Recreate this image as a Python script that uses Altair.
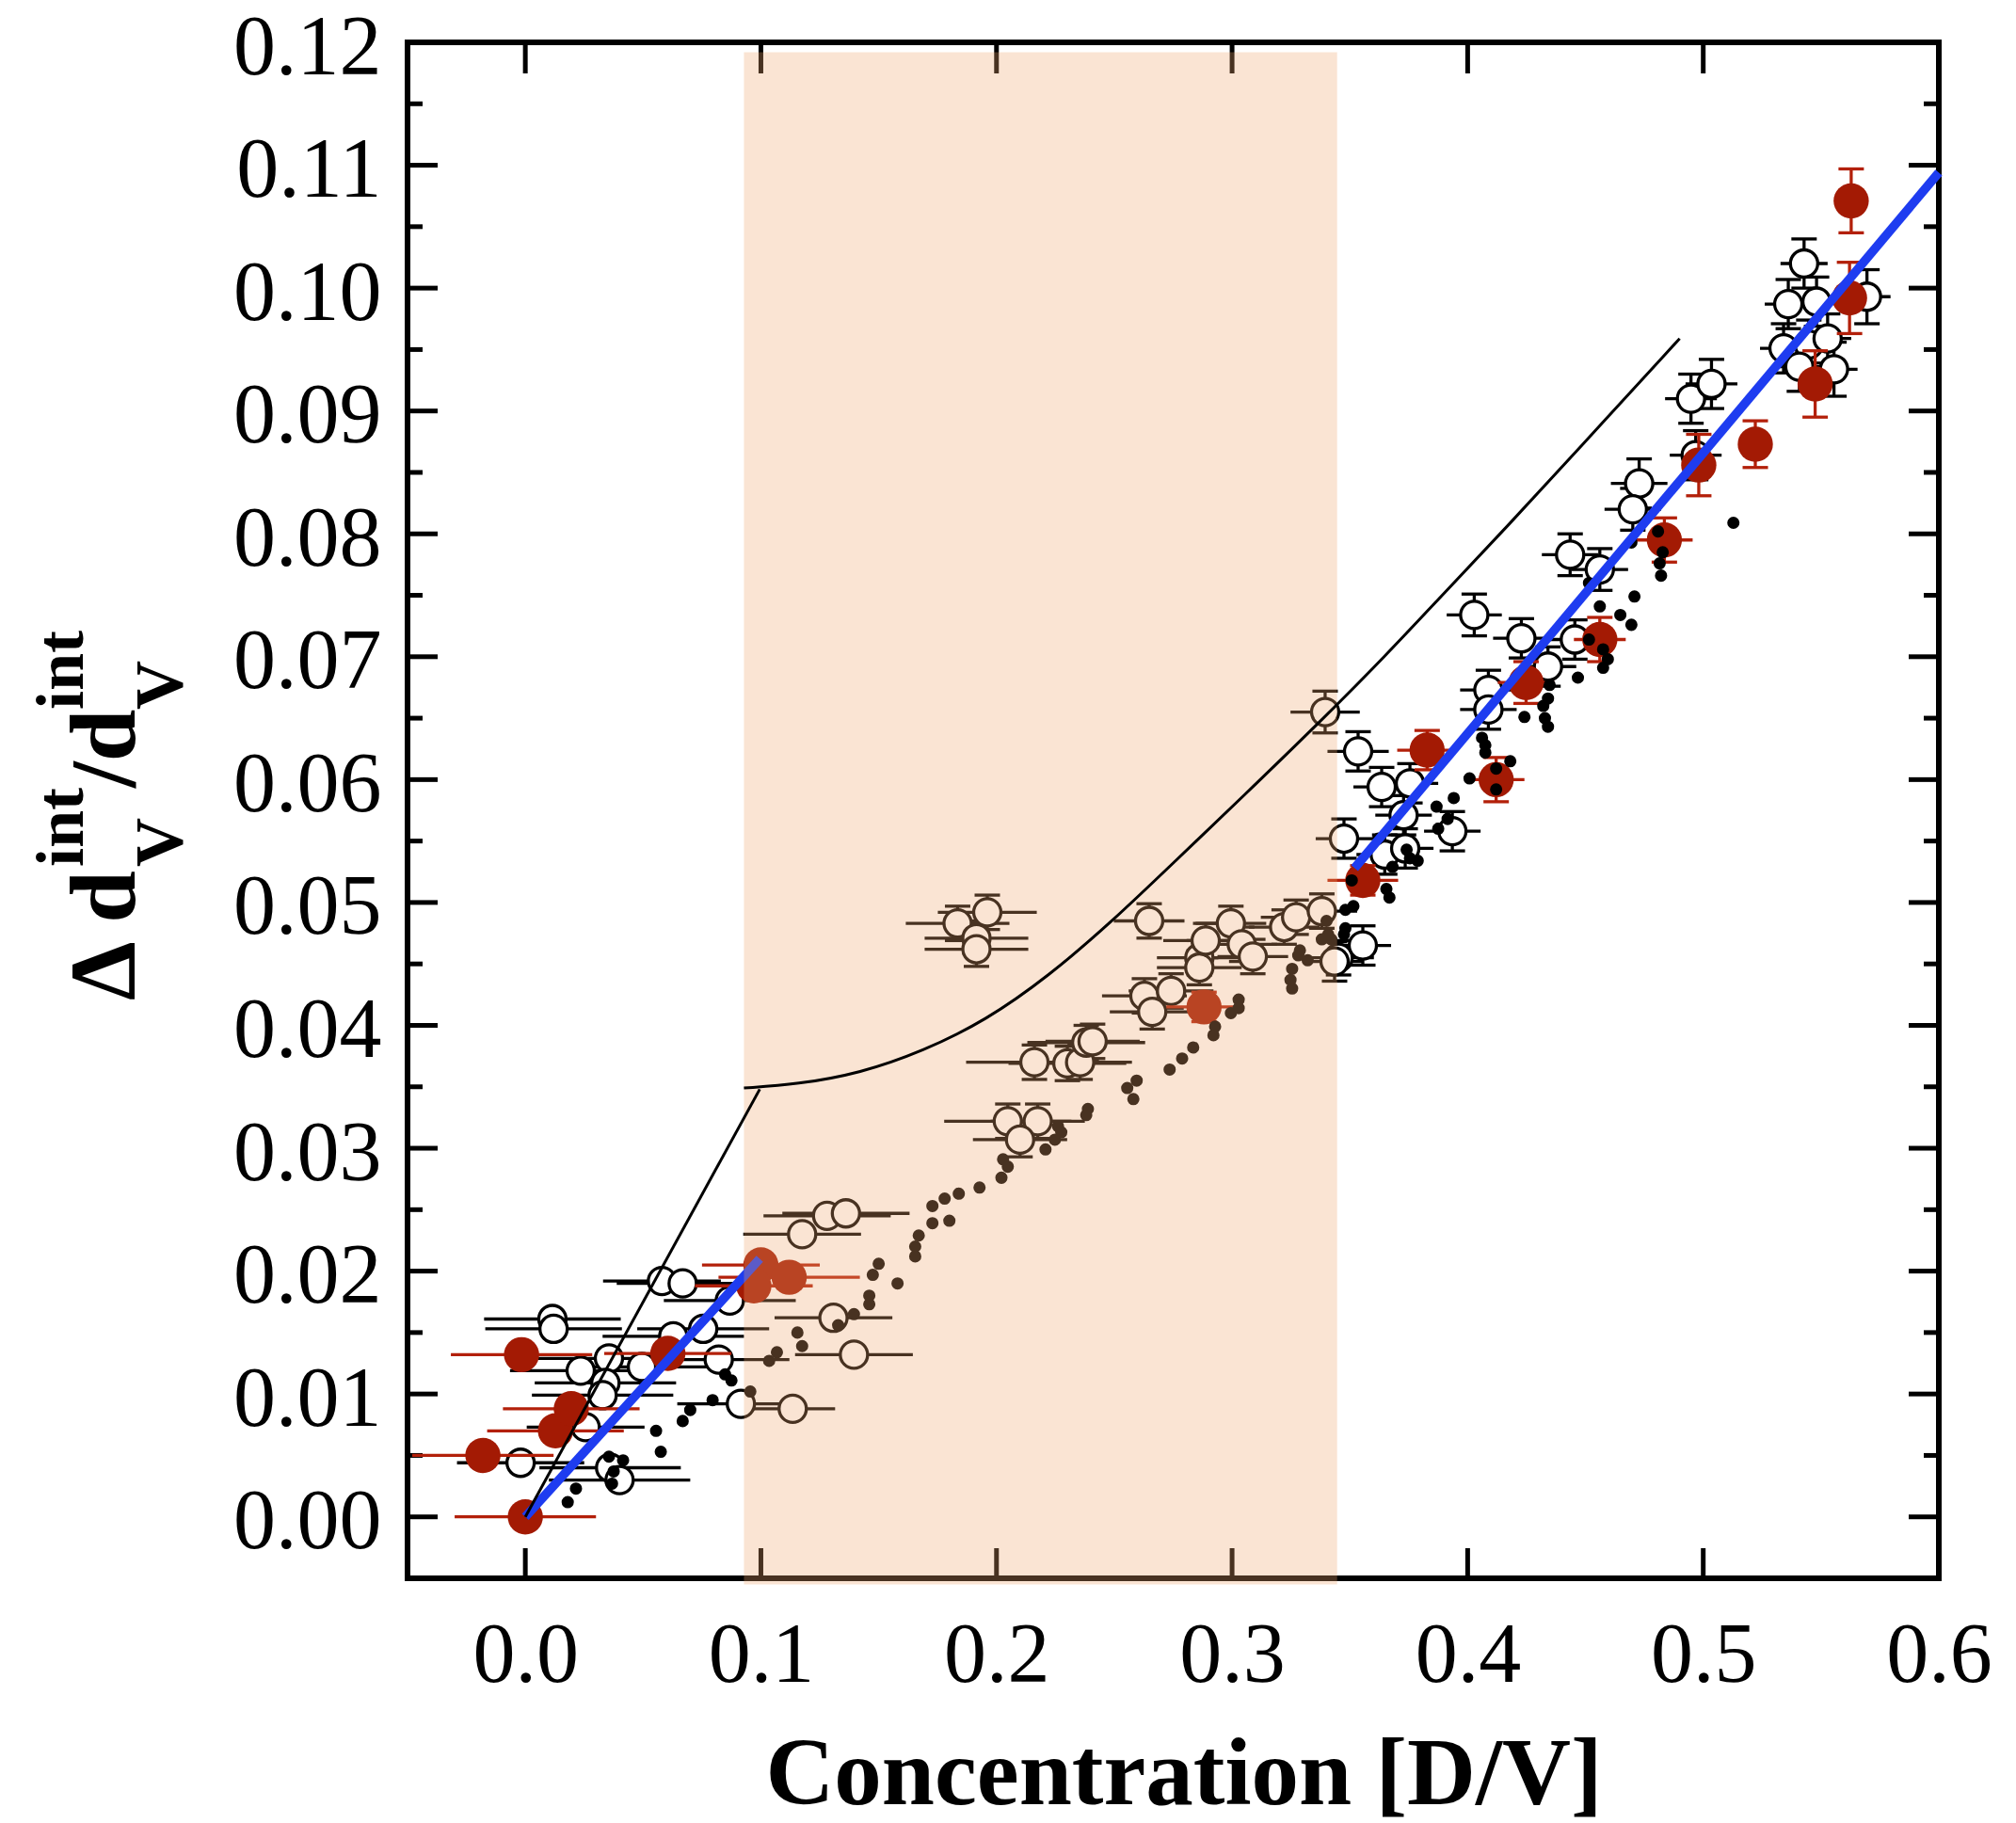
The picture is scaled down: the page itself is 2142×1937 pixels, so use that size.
import altair as alt
import pandas as pd

# ---------------- data ----------------
# open circles: x, y, horizontal half-error, vertical half-error
open_x = [0.0115, 0.0120, -0.0020, 0.0360, 0.0400, 0.0580, 0.0668, 0.0868, 0.0755, 0.0628, 0.0821, 0.0355,
          0.0235, 0.0340, 0.0328, 0.0495, 0.0915, 0.1135, 0.0256, 0.1175, 0.1281, 0.1361, 0.1308, 0.1395,
          0.1835, 0.1961, 0.1915, 0.1915, 0.2161, 0.2301, 0.2355, 0.2381, 0.2048, 0.2175, 0.2100, 0.2628,
          0.2661, 0.2741, 0.2861, 0.2861, 0.2888, 0.2648, 0.2995, 0.3041, 0.3088, 0.3221, 0.3272, 0.3381,
          0.3452, 0.2408,
          0.3395, 0.3535, 0.3635, 0.3755, 0.3728, 0.3475, 0.3648, 0.3735, 0.3935, 0.3555, 0.3435, 0.4088,
          0.4088, 0.4028, 0.4228, 0.4341, 0.4455, 0.4435, 0.4561, 0.4728, 0.4701, 0.4968, 0.4948, 0.5035,
          0.5428, 0.5361, 0.5481, 0.5341, 0.5448, 0.5528, 0.5555, 0.5695, 0.5408]
open_y = [0.0161, 0.0153, 0.0044, 0.0040, 0.0030, 0.0192, 0.0190, 0.0176, 0.0153, 0.0147, 0.0128, 0.0129,
          0.0119, 0.0109, 0.0099, 0.0122, 0.0092, 0.0088, 0.0073, 0.0230, 0.0245, 0.0247, 0.0162, 0.0132,
          0.0483, 0.0492, 0.0471, 0.0462, 0.0370, 0.0369, 0.0370, 0.0386, 0.0322, 0.0322, 0.0307, 0.0424,
          0.0411, 0.0428, 0.0455, 0.0447, 0.0469, 0.0485, 0.0483, 0.0466, 0.0456, 0.0480, 0.0488, 0.0493,
          0.0455, 0.0387,
          0.0655, 0.0623, 0.0594, 0.0597, 0.0571, 0.0552, 0.0539, 0.0544, 0.0558, 0.0465, 0.0452, 0.0673,
          0.0657, 0.0734, 0.0715, 0.0692, 0.0714, 0.0783, 0.0771, 0.0841, 0.0820, 0.0864, 0.0910, 0.0922,
          0.1020, 0.0987, 0.0989, 0.0951, 0.0954, 0.0959, 0.0934, 0.0993, 0.0936]
open_xerr = [0.029, 0.029, 0.027, 0.030, 0.030, 0.025, 0.028, 0.028, 0.028, 0.030, 0.030, 0.030,
             0.030, 0.030, 0.030, 0.030, 0.027, 0.018, 0.025, 0.025, 0.027, 0.027, 0.025, 0.025,
             0.022, 0.021, 0.022, 0.022, 0.029, 0.025, 0.022, 0.025, 0.027, 0.020, 0.020, 0.018,
             0.018, 0.018, 0.018, 0.018, 0.018, 0.015, 0.015, 0.015, 0.015, 0.015, 0.015, 0.015,
             0.015, 0.020,
             0.0147, 0.013, 0.012, 0.012, 0.012, 0.012, 0.012, 0.012, 0.012, 0.012, 0.012, 0.012,
             0.012, 0.0117, 0.012, 0.012, 0.012, 0.012, 0.012, 0.012, 0.012, 0.011, 0.011, 0.011,
             0.010, 0.010, 0.010, 0.010, 0.010, 0.010, 0.010, 0.010, 0.010]
open_yerr = [0.0] * 24 + [0.0014] * 26 + [
             0.0017, 0.0016, 0.0016, 0.0016, 0.0016, 0.0016, 0.0016, 0.0016, 0.0016, 0.0016, 0.0016, 0.0016,
             0.0016, 0.0017, 0.0016, 0.0016, 0.0016, 0.0017, 0.0017, 0.0020, 0.0017, 0.0020, 0.0020, 0.0020,
             0.0020, 0.0020, 0.0020, 0.0020, 0.0020, 0.0020, 0.0022, 0.0022, 0.0020]

# filled red circles
red_x = [0.000, -0.018, -0.0016, 0.0128, 0.0195, 0.0605, 0.100, 0.112, 0.097, 0.2881, 0.3555,
         0.3828, 0.4121, 0.4248, 0.4561, 0.4835, 0.4981, 0.5221, 0.5475, 0.5621, 0.5628]
red_y = [0.0000, 0.0050, 0.0132, 0.0070, 0.0088, 0.0133, 0.0205, 0.0195, 0.0188, 0.0415, 0.0518,
         0.0624, 0.0600, 0.0679, 0.0714, 0.0795, 0.0856, 0.0873, 0.0922, 0.0992, 0.1071]
red_xerr = [0.030, 0.030, 0.030, 0.029, 0.029, 0.027, 0.025, 0.030, 0.025, 0.016, 0.015,
            0.0127, 0.012, 0.012, 0.011, 0.012, 0.0, 0.0, 0.0, 0.0, 0.0]
red_yerr = [0.0, 0.0, 0.0, 0.0, 0.0, 0.0, 0.0, 0.0, 0.0, 0.0012, 0.0012,
            0.0016, 0.0018, 0.0017, 0.0018, 0.0018, 0.0025, 0.0019, 0.0027, 0.0029, 0.0026]

# small black dots
dot_x = [0.018, 0.0215, 0.0355, 0.0415, 0.0375, 0.0368, 0.0575, 0.0555, 0.0668, 0.070, 0.0795, 0.0875,
         0.0848, 0.0955, 0.1035, 0.1068, 0.1155, 0.1175, 0.1328, 0.1395, 0.146, 0.146, 0.150, 0.1475,
         0.158, 0.1655, 0.1655, 0.167, 0.1728, 0.1728, 0.180, 0.178, 0.184, 0.1928, 0.2021, 0.2048,
         0.2028, 0.2208, 0.2248, 0.2275, 0.2261, 0.2381, 0.2388, 0.2555, 0.2581, 0.2595, 0.2735, 0.2788,
         0.2835, 0.2921, 0.2928, 0.3028, 0.3028, 0.2995, 0.3255, 0.3248, 0.3255, 0.3281, 0.3321, 0.3288,
         0.3408, 0.3421, 0.3381, 0.3401, 0.3481, 0.3475, 0.3481, 0.3515, 0.3508, 0.3655, 0.3668, 0.3621,
         0.3681, 0.3741, 0.3788, 0.3755, 0.3868, 0.3915, 0.3941, 0.3875, 0.4008, 0.4121, 0.4181, 0.4121,
         0.4061, 0.4075, 0.4075, 0.4241, 0.4321, 0.4341, 0.4328, 0.4341, 0.4348, 0.4468, 0.4515, 0.4575,
         0.4595, 0.4575, 0.4561, 0.4648, 0.4695, 0.4708, 0.4515, 0.4695, 0.4808, 0.4828, 0.4815, 0.4821,
         0.5128]
dot_y = [0.0012, 0.0023, 0.0049, 0.0046, 0.0037, 0.0027, 0.0053, 0.0070, 0.0078, 0.0087, 0.0095, 0.0111,
         0.0116, 0.0102, 0.0127, 0.0134, 0.0150, 0.0139, 0.0156, 0.0165, 0.0180, 0.0173, 0.0206, 0.0197,
         0.0190, 0.0212, 0.0220, 0.0229, 0.0239, 0.0253, 0.0241, 0.0259, 0.0263, 0.0268, 0.0276, 0.0285,
         0.0291, 0.0299, 0.0307, 0.0313, 0.0318, 0.0327, 0.0332, 0.0349, 0.0340, 0.0355, 0.0364, 0.0373,
         0.0382, 0.0392, 0.0399, 0.0421, 0.0414, 0.0410, 0.0430, 0.0437, 0.0446, 0.0457, 0.0453, 0.0461,
         0.0474, 0.0470, 0.0470, 0.0485, 0.0479, 0.0474, 0.0494, 0.0497, 0.0518, 0.0511, 0.0504, 0.0552,
         0.0529, 0.0543, 0.0534, 0.0536, 0.0578, 0.0568, 0.0585, 0.0560, 0.0601, 0.0609, 0.0615, 0.0592,
         0.0634, 0.0628, 0.0622, 0.0651, 0.0660, 0.0643, 0.0650, 0.0666, 0.0677, 0.0683, 0.0714, 0.0706,
         0.0698, 0.0691, 0.0741, 0.0734, 0.0726, 0.0749, 0.0760, 0.0793, 0.0802, 0.0785, 0.0776, 0.0766,
         0.0809]

# thin black model line + curve
model_line_x = [0.0, 0.0995]
model_line_y = [0.0, 0.0348]
model_curve_x = [0.0928, 0.1155, 0.1421, 0.1688, 0.1955, 0.2221, 0.2488, 0.2755, 0.3050, 0.3368,
                 0.3648, 0.3901, 0.4168, 0.4461, 0.4900]
model_curve_y = [0.0349, 0.0352, 0.0361, 0.0379, 0.0404, 0.0440, 0.0484, 0.0533, 0.0587, 0.0646,
                 0.0700, 0.0752, 0.0806, 0.0867, 0.0959]

# blue linear fits
fit_low_x = [0.0, 0.0995]
fit_low_y = [0.0, 0.0210]
fit_high_x = [0.352, 0.600]
fit_high_y = [0.0528, 0.1094]

# shaded concentration range
shade_x = [0.0928, 0.3446]
shade_y = [-0.0055, 0.1192]

# axis ticks / labels
x_major = [0.0, 0.1, 0.2, 0.3, 0.4, 0.5, 0.6]
y_major = [0.00, 0.01, 0.02, 0.03, 0.04, 0.05, 0.06, 0.07, 0.08, 0.09, 0.10, 0.11, 0.12]
y_minor = [0.005, 0.015, 0.025, 0.035, 0.045, 0.055, 0.065, 0.075, 0.085, 0.095, 0.105, 0.115]

# ---------------- chart ----------------
W, H = 1627, 1632
FONT = "Liberation Serif"
RED = "#A31A04"
RED_BAR = "#B3200A"
BLUE = "#1E3CF0"

xscale = alt.Scale(domain=[-0.05, 0.6], nice=False, zero=False)
yscale = alt.Scale(domain=[-0.005, 0.12], nice=False, zero=False)
xaxis = alt.Axis(values=x_major, format=".1f", title=None, ticks=False, tickSize=0, domain=False,
                 grid=False, labelFont=FONT, labelFontSize=90, labelColor="black",
                 labelPadding=38, labelFlush=False, labelOverlap=False)
yaxis = alt.Axis(values=y_major, format=".2f", title=None, ticks=False, tickSize=0, domain=False,
                 grid=False, labelFont=FONT, labelFontSize=90, labelColor="black",
                 labelPadding=28, labelOffset=6, labelFlush=False, labelOverlap=False)


def X(f):
    return alt.X(f, type="quantitative", scale=xscale, axis=xaxis)


def Y(f):
    return alt.Y(f, type="quantitative", scale=yscale, axis=yaxis)


layers = []

# tick marks (inward, on all four sides)
ymaj = alt.Chart(pd.DataFrame({"v": y_major}))
ymin = alt.Chart(pd.DataFrame({"v": y_minor}))
xmaj = alt.Chart(pd.DataFrame({"v": x_major}))
layers += [
    ymaj.mark_rule(color="black", strokeWidth=5).encode(y=Y("v"), x=alt.value(0), x2=alt.value(32)),
    ymaj.mark_rule(color="black", strokeWidth=5).encode(y=Y("v"), x=alt.value(W), x2=alt.value(W - 32)),
    ymin.mark_rule(color="black", strokeWidth=5).encode(y=Y("v"), x=alt.value(0), x2=alt.value(16)),
    ymin.mark_rule(color="black", strokeWidth=5).encode(y=Y("v"), x=alt.value(W), x2=alt.value(W - 16)),
    xmaj.mark_rule(color="black", strokeWidth=5).encode(x=X("v"), y=alt.value(H), y2=alt.value(H - 32)),
    xmaj.mark_rule(color="black", strokeWidth=5).encode(x=X("v"), y=alt.value(0), y2=alt.value(33)),
]


def err_layers(xs, ys, xe, ye, color):
    base = alt.Chart(pd.DataFrame({"x": xs, "y": ys, "xerr": xe, "yerr": ye})).transform_calculate(
        xlo="datum.x - datum.xerr", xhi="datum.x + datum.xerr",
        ylo="datum.y - datum.yerr", yhi="datum.y + datum.yerr")
    hb = base.transform_filter("datum.xerr > 0").mark_rule(color=color, strokeWidth=3.3).encode(
        x=X("xlo"), x2=alt.X2("xhi"), y=Y("y"))
    vb = base.transform_filter("datum.yerr > 0").mark_rule(color=color, strokeWidth=3.3).encode(
        x=X("x"), y=Y("ylo"), y2=alt.Y2("yhi"))
    c1 = base.transform_filter("datum.yerr > 0").mark_tick(
        orient="horizontal", size=27, thickness=3.3, color=color, opacity=1).encode(x=X("x"), y=Y("ylo"))
    c2 = base.transform_filter("datum.yerr > 0").mark_tick(
        orient="horizontal", size=27, thickness=3.3, color=color, opacity=1).encode(x=X("x"), y=Y("yhi"))
    return base, [hb, vb, c1, c2]


obase, oerr = err_layers(open_x, open_y, open_xerr, open_yerr, "black")
layers += oerr
layers.append(obase.mark_circle(size=841, fill="white", stroke="black", strokeWidth=3.3,
                                opacity=1, fillOpacity=1).encode(x=X("x"), y=Y("y")))

rbase, rerr = err_layers(red_x, red_y, red_xerr, red_yerr, RED_BAR)
layers += rerr
layers.append(rbase.mark_circle(size=1400, color=RED, opacity=1).encode(x=X("x"), y=Y("y")))

layers.append(alt.Chart(pd.DataFrame({"x": dot_x, "y": dot_y})).mark_circle(
    size=170, color="black", opacity=1).encode(x=X("x"), y=Y("y")))

layers.append(alt.Chart(pd.DataFrame({"x": fit_low_x, "y": fit_low_y})).mark_line(
    color=BLUE, strokeWidth=9.5).encode(x=X("x"), y=Y("y")))
layers.append(alt.Chart(pd.DataFrame({"x": fit_high_x, "y": fit_high_y})).mark_line(
    color=BLUE, strokeWidth=9.5).encode(x=X("x"), y=Y("y")))

# translucent orange band over the data
layers.append(alt.Chart(pd.DataFrame({"x0": [shade_x[0]], "x1": [shade_x[1]],
                                      "y0": [shade_y[0]], "y1": [shade_y[1]]})).mark_rect(
    color="#EEA56E", opacity=0.3).encode(x=X("x0"), x2=alt.X2("x1"), y=Y("y0"), y2=alt.Y2("y1")))

# model lines stay black on top of the band
layers.append(alt.Chart(pd.DataFrame({"x": model_line_x, "y": model_line_y})).mark_line(
    color="black", strokeWidth=3).encode(x=X("x"), y=Y("y")))
layers.append(alt.Chart(pd.DataFrame({"x": model_curve_x, "y": model_curve_y})).mark_line(
    color="black", strokeWidth=3, interpolate="basis").encode(x=X("x"), y=Y("y")))


# axis titles as text
def txt(s, x, y, size, angle=0, align="left"):
    return alt.Chart(pd.DataFrame({"t": [s]})).mark_text(
        font=FONT, fontWeight="bold", fontSize=size, angle=angle, align=align,
        baseline="alphabetic", color="black").encode(text="t:N", x=alt.value(x), y=alt.value(y))


layers += [
    txt("Concentration [D/V]", 825, 1872, 101, align="center"),
    txt("\u0394 d", -290, 1018, 100, angle=270),
    txt("V", -240, 876, 72, angle=270),
    txt("int", -345, 876, 72, angle=270),
    txt("/d", -290, 792, 100, angle=270),
    txt("V", -240, 709, 72, angle=270),
    txt("int", -345, 709, 72, angle=270),
]

chart = alt.layer(*layers).properties(
    width=W, height=H,
    autosize=alt.AutoSizeParams(type="none"),
    padding={"left": 425, "top": 37, "right": 74, "bottom": 262},
).configure_view(stroke="black", strokeWidth=6)

chart.save("out.html", embed_options={"renderer": "svg", "actions": False})
